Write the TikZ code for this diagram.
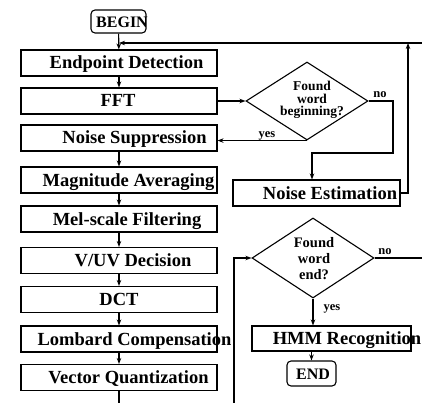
\documentclass[tikz,border=0pt]{standalone}
\usepackage{fontspec}
\setmainfont{Liberation Serif}
\usetikzlibrary{shapes.geometric,arrows.meta}
\begin{document}
\begin{tikzpicture}[x=1pt,y=-1pt,
  line width=1.1pt,
  arr/.style={-{Stealth[length=6pt,width=4.5pt]}},
  box/.style={draw, minimum width=196pt, minimum height=26pt, inner sep=0pt},
  rbox/.style={draw, rounded corners=4pt, inner sep=0pt},
  dia/.style={draw, diamond, inner sep=0pt, minimum width=122pt, minimum height=78pt},
  big/.style={font=\fontsize{18.5}{20}\selectfont\bfseries, inner sep=0pt, text height=12pt, text depth=0pt},
  endtxt/.style={font=\fontsize{16}{18}\selectfont\bfseries, inner sep=0pt, text height=10.5pt, text depth=0pt},
  dtxt/.style={font=\fontsize{13.5}{12.5}\selectfont\bfseries, inner sep=0pt, align=center},
  dtxtb/.style={font=\fontsize{14.5}{16}\selectfont\bfseries, inner sep=0pt, align=center},
  small/.style={font=\fontsize{12.5}{13}\selectfont\bfseries, inner sep=0pt},
]
\useasboundingbox (0,0) rectangle (422,403);

% BEGIN
\node[rbox, minimum width=55pt, minimum height=23pt] (begin) at (118.5,21.5) {};
\node[endtxt] (begint) at (122,22) {BEGIN};

% left column
\node[box] (ed)  at (119,63)    {};
\node[box] (fft) at (119,101)   {};
\node[box] (ns)  at (119,138)   {};
\node[box] (ma)  at (119,180)   {};
\node[box] (msf) at (119,219)   {};
\node[box] (vuv) at (119,260.5) {};
\node[box] (dct) at (119,299.5) {};
\node[box] (lc)  at (119,339)   {};
\node[box] (vq)  at (119,377.5) {};

\node[big] (edt)  at (126.5,63)    {Endpoint Detection};
\node[big] (fftt) at (118,101)     {FFT};
\node[big] (nst)  at (134.5,138)   {Noise Suppression};
\node[big] (mat)  at (128.5,180)   {Magnitude Averaging};
\node[big] (msft) at (127,219)     {Mel-scale Filtering};
\node[big] (vuvt) at (133,260.5)   {V/UV Decision};
\node[big] (dctt) at (119,299.5)   {DCT};
\node[big] (lct)  at (134.5,339)   {Lombard Compensation};
\node[big] (vqt)  at (128.5,377.5) {Vector Quantization};

\draw[arr] (begin) -- (ed);
\draw[arr] (ed) -- (fft);
\draw[arr] (ns) -- (ma);
\draw[arr] (ma) -- (msf);
\draw[arr] (msf) -- (vuv);
\draw[arr] (vuv) -- (dct);
\draw[arr] (dct) -- (lc);
\draw[arr] (lc) -- (vq);
\coordinate (bot) at (119,403);
\draw (vq.south) -- (bot);

% top loop line
\coordinate (tr) at (422,43);
\coordinate (j) at (119,43);
\draw[arr] (tr) -- (j);

% diamond 1
\node[dia] (d1) at (307,101) {};
\node[dtxt] (d1t) at (312,100) {Found\\word\\beginning?};
\draw[arr] (fft.east) -- (d1.west);
\draw[arr] (d1.south) -- (d1.south -| ns.east);
\node[small] (yes1) at (267,135.5) {yes};
\node[small] (no1) at (380,95) {no};

% noise estimation
\node[box, minimum width=167pt] (ne) at (316.5,193) {};
\node[big] (net) at (330,193) {Noise Estimation};
\coordinate (n1) at (393,153);
\draw[arr] (d1.east) -| (n1) -| ([xshift=-4.5pt]ne.north);
\coordinate (r1) at (408,43);
\draw[arr] (ne.east) -| (r1);

% diamond 2
\node[dia, minimum height=80pt] (d2) at (313,258) {};
\node[dtxtb] (d2t) at (314,259) {Found\\word\\end?};
\coordinate (b2) at (234,403);
\draw[arr] (b2) |- (d2.west);
\coordinate (r2) at (422,258);
\draw (d2.east) -- (r2);
\node[small] (no2) at (385,252) {no};
\node[small] (yes2) at (332,309) {yes};

% HMM and END
\node[box, minimum width=159pt, minimum height=25pt] (hmm) at (331.5,338.5) {};
\node[big] (hmmt) at (347,338.5) {HMM Recognition};
\draw[arr] (d2.south) -- (d2.south |- hmm.north);
\node[rbox, minimum width=49pt, minimum height=25pt] (end) at (311.5,373.5) {};
\node[endtxt] (endt) at (313,374) {END};
\draw[arr] (hmm.south -| end.north) -- (end.north);
\end{tikzpicture}
\end{document}
